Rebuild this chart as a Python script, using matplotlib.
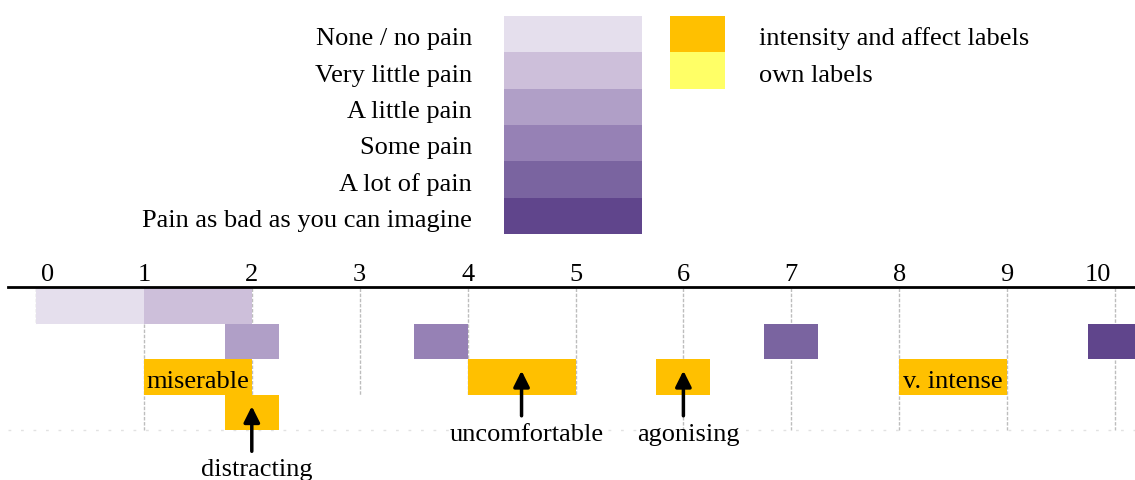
import matplotlib.pyplot as plt

plt.rcParams['font.family'] = ['Liberation Serif', 'DejaVu Serif']
plt.rcParams['font.size'] = 19

# pain scale levels (legend)
levels = ["None / no pain", "Very little pain", "A little pain",
          "Some pain", "A lot of pain", "Pain as bad as you can imagine"]
level_colors = ["#E5DFED", "#CDBFDA", "#B09FC7", "#9681B5", "#7A64A0", "#60458C"]

label_kinds = ["intensity and affect labels", "own labels"]
kind_colors = ["#FFC000", "#FFFF66"]

# intensity labels placed on the 0-10 scale
intensity_start = [0, 1, 1.75, 3.5, 6.75, 9.75]
intensity_end = [1, 2, 2.25, 4, 7.25, 10.25]
intensity_row = [0, 0, 1, 1, 1, 1]

# affect labels placed on the 0-10 scale
affect_labels = ["miserable", "uncomfortable", "agonising", "v. intense", "distracting"]
affect_start = [1, 4, 5.75, 8, 1.75]
affect_end = [2, 5, 6.25, 9, 2.25]
affect_row = [2, 2, 2, 2, 3]

ticks = list(range(11))
grid_end = [1, 4, 4, 3, 3, 3, 4, 4, 4, 4, 4]

W, H = 1135, 481
fig = plt.figure(figsize=(W / 100, H / 100), dpi=100)

# ---- scale axes (x in scale units, y in rows) ----
ax = fig.add_axes([0, 0, 1, 1])
px_unit = 107.9
x0_px = 36
row_h = 35.5
top_px = 289
ax.set_xlim(-x0_px / px_unit, (W - x0_px) / px_unit)
ax.set_ylim((H - top_px) / row_h, -top_px / row_h)
ax.axis('off')

for t, e in zip(ticks, grid_end):
    ax.plot([t, t], [0, e], color='#BDBDBD', lw=1.0, ls=(0, (2.5, 1.2)), zorder=1)

ax.plot([-0.26, 10.3], [4, 4], color='#E2E2E2', lw=1.0, ls=(0, (2, 7)), zorder=1)
ax.plot([-0.26, 10.3], [-0.03, -0.03], color='black', lw=2.0, zorder=4)

for t in ticks:
    xt = t
    if t == 0:
        xt = 0.11
    if t == 10:
        xt = 9.84
    ax.text(xt, -0.22, str(t), ha='center', va='baseline')

for s, e, r in zip(intensity_start, intensity_end, intensity_row):
    lvl = intensity_start.index(s)
    ax.barh(r + 0.5, e - s, left=s, height=1, color=level_colors[lvl], zorder=2)

arrowed = [False, True, True, False, True]
for lab, s, e, r, arr in zip(affect_labels, affect_start, affect_end, affect_row, arrowed):
    ax.barh(r + 0.5, e - s, left=s, height=1, color=kind_colors[0], zorder=2)
    mid = (s + e) / 2
    if not arr:
        ax.text(mid, r + 0.8, lab, ha='center', va='baseline', zorder=5)
    else:
        ax.annotate('', xy=(mid, r + 0.33), xytext=(mid, r + 1.6),
                    arrowprops=dict(arrowstyle='-|>', color='black', lw=2.5,
                                    mutation_scale=24, shrinkA=0, shrinkB=0),
                    zorder=5)
        ax.text(mid + 0.05, r + 2.27, lab, ha='center', va='baseline', zorder=5)

# ---- legend ----
lg = fig.add_axes([504 / W, 1 - 235 / H, (725 - 504) / W, (235 - 17) / H])
lg.set_xlim(0, 221)
lg.set_ylim(6, 0)
lg.axis('off')
for i, (name, c) in enumerate(zip(levels, level_colors)):
    lg.barh(i + 0.5, 138, left=0, height=1, color=c)
    lg.text(-32, i + 0.78, name, ha='right', va='baseline')
for i, (name, c) in enumerate(zip(label_kinds, kind_colors)):
    lg.barh(i + 0.5, 55, left=166, height=1, color=c)
    lg.text(255, i + 0.78, name, ha='left', va='baseline', clip_on=False)

fig.savefig("out.png", dpi=100)
